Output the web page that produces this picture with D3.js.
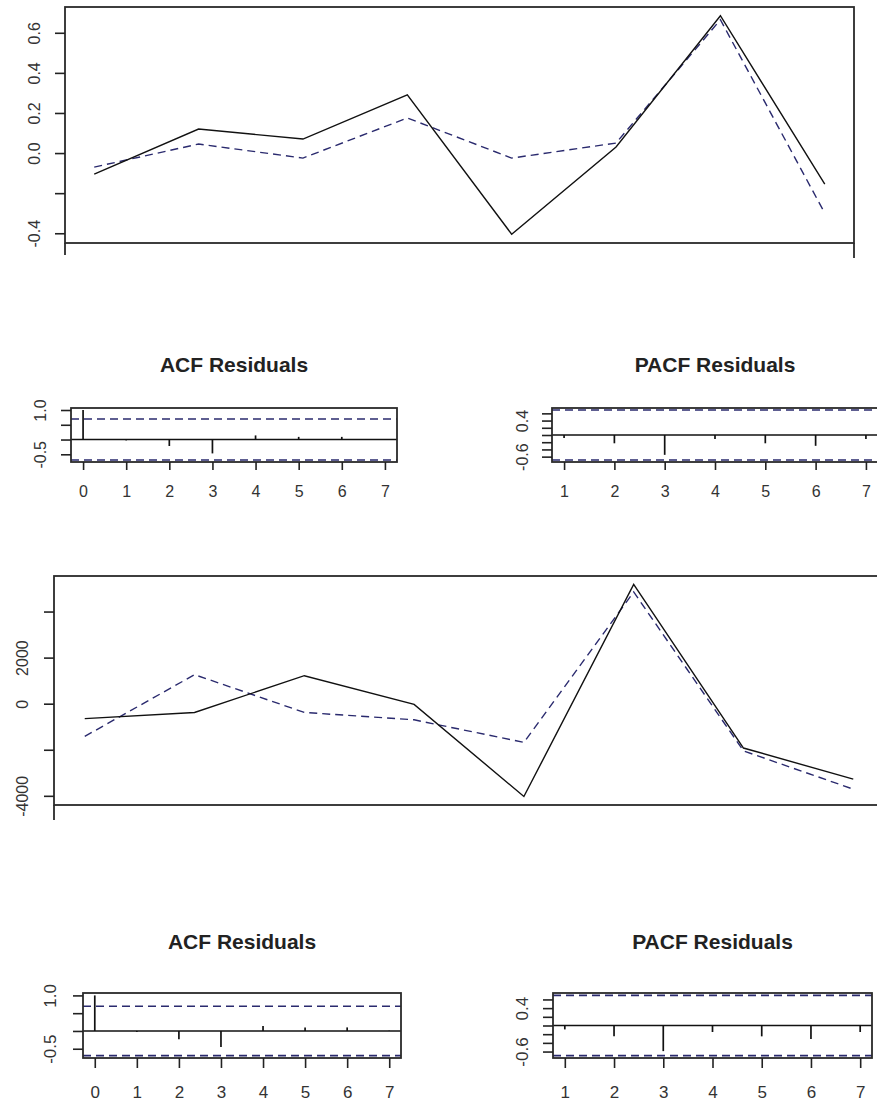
<!DOCTYPE html>
<html>
<head>
<meta charset="utf-8">
<script src="https://cdn.jsdelivr.net/npm/d3@7"></script>
<style>
  body { margin: 0; background: #fff; }
  svg { display: block; }
  text { font-family: "Liberation Sans", Arial, sans-serif; fill: #333; }
</style>
</head>
<body>
<div id="chart"></div>
<script>
// ---- data ----
const fit1Index = [1, 2, 3, 4, 5, 6, 7, 8];
const fit1Actual = [-0.105, 0.12, 0.07, 0.29, -0.405, 0.03, 0.685, -0.155];
const fit1Fitted = [-0.07, 0.045, -0.025, 0.175, -0.025, 0.05, 0.665, -0.30];
const fit1Ticks = [-0.4, -0.2, 0, 0.2, 0.4, 0.6];
const fit1TickLabels = ["-0.4", "", "0.0", "0.2", "0.4", "0.6"];

const fit2Index = [1, 2, 3, 4, 5, 6, 7, 8];
const fit2Actual = [-650, -380, 1215, -30, -4030, 5175, -1925, -3275];
const fit2Fitted = [-1420, 1260, -380, -700, -1680, 4850, -2050, -3710];
const fit2Ticks = [-4000, -2000, 0, 2000, 4000];
const fit2TickLabels = ["-4000", "", "0", "2000", ""];

const acfLags = [0, 1, 2, 3, 4, 5, 6, 7];
const acf1Values = [1, -0.03, -0.22, -0.47, 0.14, 0.09, 0.09, 0.01];
const acf2Values = [1, -0.03, -0.23, -0.45, 0.14, 0.10, 0.10, 0.01];
const pacfLags = [1, 2, 3, 4, 5, 6, 7];
const pacf1Values = [-0.08, -0.23, -0.55, -0.11, -0.23, -0.30, -0.11];
const pacf2Values = [-0.09, -0.25, -0.59, -0.15, -0.25, -0.31, -0.15];
const ciBound = 0.693;   // 1.96 / sqrt(8)
const acfTicks = [-0.5, 0, 0.5, 1.0];
const acfTickLabels = ["-0.5", "", "", "1.0"];
const pacfTicks = [-0.6, -0.4, -0.2, 0, 0.2, 0.4, 0.6];
const pacfTickLabels = ["-0.6", "", "", "", "", "0.4", ""];

const width = 877, height = 1104;
const dashColor = "#2a2a6e";

const svg = d3.select("#chart").append("svg")
  .attr("width", width)
  .attr("height", height);

// R style: pad the data range by 4% on each side
function padded(lo, hi) {
  const r = hi - lo;
  return [lo - 0.04 * r, hi + 0.04 * r];
}

function leftAxis(g, y, ticks, labels, box, labelOff, fontSize) {
  const ax = g.append("g")
    .attr("transform", `translate(${box.x0},0)`)
    .call(d3.axisLeft(y).tickValues(ticks).tickSize(10)
      .tickFormat((d, i) => labels[i]));
  ax.select(".domain").remove();
  ax.selectAll(".tick line").attr("stroke", "#222").attr("stroke-width", 1.6);
  ax.selectAll(".tick text")
    .attr("transform", "rotate(-90)")
    .attr("text-anchor", "middle")
    .attr("x", 0)
    .attr("y", -labelOff)
    .attr("dy", "0.35em")
    .style("font-size", fontSize + "px")
    .style("fill", "#333");
}

function drawBox(g, box) {
  g.append("rect")
    .attr("x", box.x0).attr("y", box.y0)
    .attr("width", box.x1 - box.x0).attr("height", box.y1 - box.y0)
    .attr("fill", "none").attr("stroke", "#2a2a2a").attr("stroke-width", 1.8);
}

function seriesPanel(opt) {
  const { box } = opt;
  const g = svg.append("g");
  const all = opt.actual.concat(opt.fitted);
  const x = d3.scaleLinear().domain(padded(d3.min(opt.index), d3.max(opt.index))).range([box.x0, box.x1]);
  const y = d3.scaleLinear().domain(padded(d3.min(all), d3.max(all))).range([box.y1, box.y0]);

  const line = d3.line().x((d, i) => x(opt.index[i])).y(d => y(d));

  g.append("path").datum(opt.fitted)
    .attr("d", line).attr("fill", "none")
    .attr("stroke", dashColor).attr("stroke-width", 1.4)
    .attr("stroke-dasharray", "8,5");
  g.append("path").datum(opt.actual)
    .attr("d", line).attr("fill", "none")
    .attr("stroke", "#111").attr("stroke-width", 1.4);

  drawBox(g, box);
  // side lines continuing below the box (cropped neighbour plot)
  g.append("line").attr("x1", box.x0).attr("x2", box.x0)
    .attr("y1", box.y1).attr("y2", opt.leftDrop)
    .attr("stroke", "#2a2a2a").attr("stroke-width", 1.8);
  if (opt.rightDrop) {
    g.append("line").attr("x1", box.x1).attr("x2", box.x1)
      .attr("y1", box.y1).attr("y2", opt.rightDrop)
      .attr("stroke", "#2a2a2a").attr("stroke-width", 1.8);
  }
  leftAxis(g, y, opt.ticks, opt.labels, box, opt.labelOff, 16);
}

function corrPanel(opt) {
  const { box } = opt;
  const g = svg.append("g");
  const x = d3.scaleLinear().domain(padded(d3.min(opt.lags), d3.max(opt.lags))).range([box.x0, box.x1]);
  const y = d3.scaleLinear()
    .domain(padded(Math.min(d3.min(opt.values), -ciBound), Math.max(d3.max(opt.values), ciBound)))
    .range([box.y1, box.y0]);

  g.append("text")
    .attr("x", (box.x0 + box.x1) / 2)
    .attr("y", box.y0 - opt.titleGap)
    .attr("text-anchor", "middle")
    .style("font-size", opt.titleSize + "px")
    .style("font-weight", "bold")
    .style("fill", "#222")
    .text(opt.title);

  // zero line and confidence bounds
  g.append("line")
    .attr("x1", box.x0).attr("x2", box.x1)
    .attr("y1", y(0)).attr("y2", y(0))
    .attr("stroke", "#111").attr("stroke-width", 1.6);
  [ciBound, -ciBound].forEach(c => {
    g.append("line")
      .attr("x1", box.x0).attr("x2", box.x1)
      .attr("y1", y(c)).attr("y2", y(c))
      .attr("stroke", dashColor).attr("stroke-width", 1.6)
      .attr("stroke-dasharray", "8,5");
  });

  g.selectAll("line.bar")
    .data(opt.values)
    .enter().append("line")
    .attr("class", "bar")
    .attr("x1", (d, i) => x(opt.lags[i])).attr("x2", (d, i) => x(opt.lags[i]))
    .attr("y1", y(0)).attr("y2", d => y(d))
    .attr("stroke", "#111").attr("stroke-width", 1.7);

  drawBox(g, box);

  const bx = g.append("g")
    .attr("transform", `translate(0,${box.y1})`)
    .call(d3.axisBottom(x).tickValues(opt.lags).tickSize(opt.tickLen).tickFormat(d3.format("d")));
  bx.select(".domain").remove();
  bx.selectAll(".tick line").attr("stroke", "#222").attr("stroke-width", 1.6);
  bx.selectAll(".tick text")
    .attr("y", opt.xLabelOff).attr("dy", "0.35em")
    .style("font-size", opt.fontSize + "px")
    .style("fill", "#333");

  leftAxis(g, y, opt.ticks, opt.tickLabels, box, opt.labelOff, opt.fontSize);
}

seriesPanel({
  box: { x0: 65, x1: 854, y0: 7, y1: 243 },
  index: fit1Index, actual: fit1Actual, fitted: fit1Fitted,
  ticks: fit1Ticks, labels: fit1TickLabels,
  labelOff: 31, leftDrop: 255, rightDrop: 258
});

corrPanel({
  box: { x0: 71, x1: 397, y0: 408, y1: 462 },
  lags: acfLags, values: acf1Values, title: "ACF Residuals",
  ticks: acfTicks, tickLabels: acfTickLabels,
  titleGap: 36, titleSize: 21, fontSize: 16, tickLen: 8, xLabelOff: 29, labelOff: 31
});

corrPanel({
  box: { x0: 552, x1: 878, y0: 408, y1: 462 },
  lags: pacfLags, values: pacf1Values, title: "PACF Residuals",
  ticks: pacfTicks, tickLabels: pacfTickLabels,
  titleGap: 36, titleSize: 21, fontSize: 16, tickLen: 8, xLabelOff: 29, labelOff: 30
});

seriesPanel({
  box: { x0: 54, x1: 884, y0: 576, y1: 805 },
  index: fit2Index, actual: fit2Actual, fitted: fit2Fitted,
  ticks: fit2Ticks, labels: fit2TickLabels,
  labelOff: 32, leftDrop: 820
});

corrPanel({
  box: { x0: 83, x1: 401, y0: 993, y1: 1058 },
  lags: acfLags, values: acf2Values, title: "ACF Residuals",
  ticks: acfTicks, tickLabels: acfTickLabels,
  titleGap: 44, titleSize: 21, fontSize: 17, tickLen: 10, xLabelOff: 34, labelOff: 33
});

corrPanel({
  box: { x0: 553, x1: 872, y0: 993, y1: 1058 },
  lags: pacfLags, values: pacf2Values, title: "PACF Residuals",
  ticks: pacfTicks, tickLabels: pacfTickLabels,
  titleGap: 44, titleSize: 21, fontSize: 17, tickLen: 10, xLabelOff: 34, labelOff: 31
});
</script>
</body>
</html>
